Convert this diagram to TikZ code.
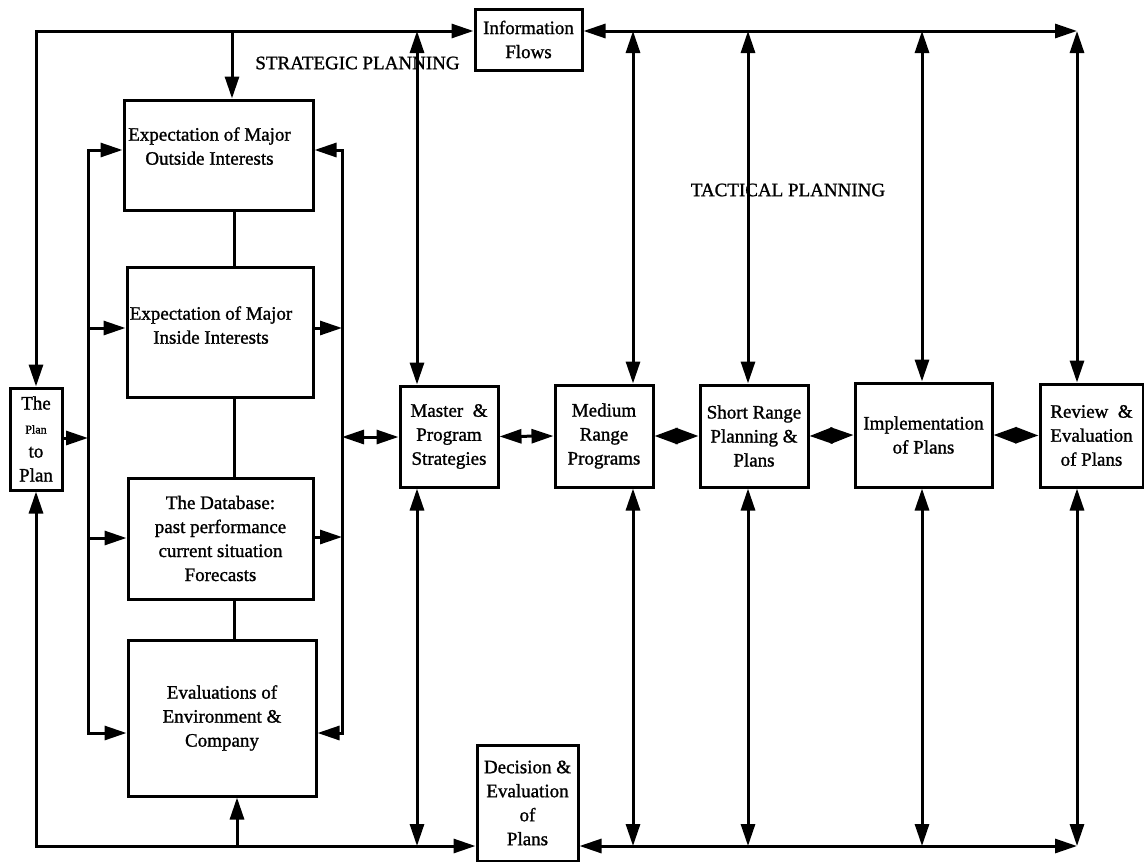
\documentclass[tikz,border=0pt]{standalone}
\usepackage{fontspec}
\setmainfont{Liberation Serif}
\newfontfamily\heavyserif{Liberation Serif}[FakeBold=1.2]
\usetikzlibrary{arrows.meta}
\begin{document}
\begin{tikzpicture}[x=1pt,y=-1pt,
  every node/.style={font=\heavyserif\fontsize{19}{24}\selectfont},
  box/.style={draw, line width=3pt, inner sep=0pt, align=center},
  link/.style={line width=3pt},
  arr/.style={link, -{Triangle[length=22pt,width=14pt]}},
  biarr/.style={link, {Triangle[length=22pt,width=14pt]}-{Triangle[length=22pt,width=14pt]}},
  diam/.style={link, {Triangle[length=23pt,width=16pt]}-{Triangle[length=23pt,width=16pt]}},
]
\useasboundingbox (0,0) rectangle (1144,862);

% ---- boxes ----
\node[box, minimum width=107pt, minimum height=61pt] (info) at (528.5,39.5) {Information\\Flows};
\node[box, minimum width=52pt, minimum height=102pt] (plan) at (36,439)
  {The\\{\fontsize{12}{13}\selectfont Plan}\\to\\Plan};
\node[box, minimum width=189pt, minimum height=110pt] (outside) at (218.5,155)
  {Expectation of Major\hspace*{18pt}\\Outside Interests\hspace*{18pt}\rule[-18pt]{0pt}{0pt}};
\node[box, minimum width=186pt, minimum height=130pt] (inside) at (220,332)
  {Expectation of Major\hspace*{18pt}\\Inside Interests\hspace*{18pt}\rule[-14pt]{0pt}{0pt}};
\node[box, minimum width=185pt, minimum height=121pt] (database) at (220.5,538.5)
  {The Database:\\past performance\\current situation\\Forecasts};
\node[box, minimum width=188pt, minimum height=156pt] (evaluations) at (222,718)
  {Evaluations of\\Environment \&\\Company};
\node[box, minimum width=98pt, minimum height=101pt] (master) at (449,436.5)
  {Master\ \ \&\\Program\\Strategies};
\node[box, minimum width=98pt, minimum height=102pt] (medium) at (604,436)
  {Medium\\Range\\Programs};
\node[box, minimum width=108pt, minimum height=102pt] (short) at (754,436)
  {Short Range\\Planning \&\\Plans};
\node[box, minimum width=137pt, minimum height=104pt] (impl) at (923.5,435)
  {Implementation\\of Plans};
\node[box, minimum width=103pt, minimum height=103pt] (review) at (1091.5,435.5)
  {Review\ \ \&\\Evaluation\\of Plans};
\node[box, minimum width=101pt, minimum height=116pt] (decision) at (527.5,803)
  {Decision \&\\Evaluation\\of\\Plans};

% ---- section labels ----
\node (strategic) at (357.5,63) {STRATEGIC PLANNING};
\node (tactical) at (788,190) {TACTICAL PLANNING};

% ---- bus corners and taps ----
\coordinate (tl) at (36,31);
\coordinate (bl) at (36,846);
\coordinate (tr) at (1077,31);
\coordinate (br) at (1077,846);
\coordinate (tOut) at (232,31);
\coordinate (bEval) at (237,846);
\coordinate (lbTop) at (88,150);
\coordinate (lbBot) at (88,733);
\coordinate (rbTop) at (342,150);
\coordinate (rbBot) at (342,733);
\coordinate (lbPlan) at (88,438);
\coordinate (lbIn) at (88,328);
\coordinate (lbDb) at (88,538);
\coordinate (rbIn) at (342,328);
\coordinate (rbDb) at (342,537);
\coordinate (rbMaster) at (342,437);
\coordinate (spine) at (234,0);
\foreach \n/\x in {master/417, medium/633, short/748, impl/922, review/1077} {
  \coordinate (t\n) at (\x,31);
  \coordinate (b\n) at (\x,846);
}

% ---- outer loop: information flows (top) and decisions (bottom) ----
\draw[biarr] (plan.north) -- (tl) -- (info.west |- tl);
\draw[biarr] (plan.south) -- (bl) -- (decision.west |- bl);
\draw[biarr] (info.east |- tr) -- (tr);
\draw[biarr] (decision.east |- br) -- (br);
\draw[arr] (tOut) -- (tOut |- outside.north);
\draw[arr] (bEval) -- (bEval |- evaluations.south);
\foreach \n in {master, medium, short, impl, review} {
  \draw[biarr] (t\n) -- (t\n |- \n.north);
  \draw[biarr] (b\n |- \n.south) -- (b\n);
}

% ---- strategic block: side buses ----
\draw[biarr] (outside.west |- lbTop) -- (lbTop) -- (lbBot) -- (evaluations.west |- lbBot);
\draw[biarr] (outside.east |- rbTop) -- (rbTop) -- (rbBot) -- (evaluations.east |- rbBot);
\draw[arr] (plan.east |- lbPlan) -- (lbPlan);
\draw[arr] (lbIn) -- (inside.west |- lbIn);
\draw[arr] (lbDb) -- (database.west |- lbDb);
\draw[arr] (inside.east |- rbIn) -- (rbIn);
\draw[arr] (database.east |- rbDb) -- (rbDb);
\draw[link] (outside.south -| spine) -- (inside.north -| spine);
\draw[link] (inside.south -| spine) -- (database.north -| spine);
\draw[link] (database.south -| spine) -- (evaluations.north -| spine);

% ---- planning chain ----
\draw[biarr] (rbMaster) -- (master.west |- rbMaster);
\draw[biarr] (master.east) -- (medium.west);
\draw[diam] (medium.east) -- (short.west);
\draw[diam] (short.east) -- (impl.west);
\draw[diam] (impl.east) -- (review.west);
\end{tikzpicture}
\end{document}
